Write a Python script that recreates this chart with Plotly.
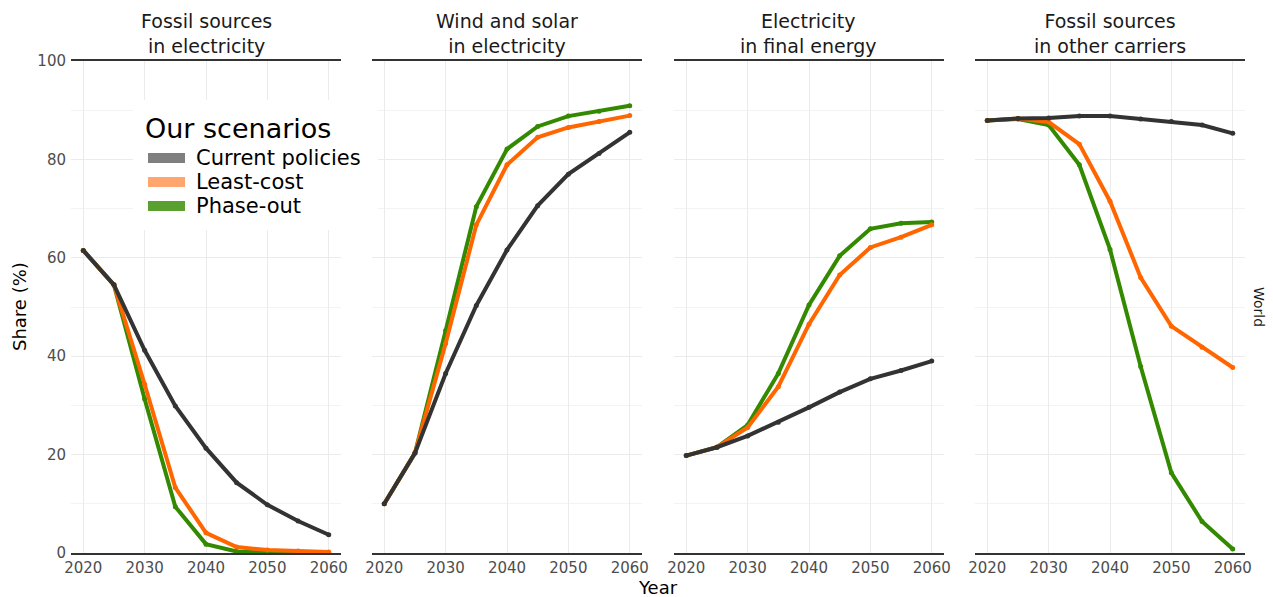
import plotly.graph_objects as go

years = [2020, 2025, 2030, 2035, 2040, 2045, 2050, 2055, 2060]
panels = ["Fossil sources<br>in electricity", "Wind and solar<br>in electricity",
          "Electricity<br>in final energy", "Fossil sources<br>in other carriers"]
scenarios = ["Current policies", "Least-cost", "Phase-out"]
legend_title = "Our scenarios"

# values per panel (percent)
fossil_elec_current = [61.5, 54.5, 41.2, 29.9, 21.3, 14.3, 9.8, 6.5, 3.7]
fossil_elec_leastcost = [61.5, 54.5, 34.3, 13.3, 4.1, 1.2, 0.6, 0.4, 0.2]
fossil_elec_phaseout = [61.5, 54.5, 31.3, 9.4, 1.8, 0.3, 0.1, 0.05, 0.0]

windsolar_current = [10.0, 20.3, 36.5, 50.3, 61.6, 70.6, 77.0, 81.2, 85.5]
windsolar_leastcost = [10.0, 20.3, 42.6, 66.7, 78.9, 84.5, 86.5, 87.7, 88.9]
windsolar_phaseout = [10.0, 20.3, 45.2, 70.4, 82.1, 86.7, 88.8, 89.8, 90.9]

elec_final_current = [19.8, 21.5, 23.8, 26.6, 29.6, 32.7, 35.4, 37.1, 39.0]
elec_final_leastcost = [19.8, 21.5, 25.5, 33.8, 46.5, 56.5, 62.1, 64.2, 66.7]
elec_final_phaseout = [19.8, 21.5, 26.0, 36.5, 50.4, 60.4, 65.9, 67.0, 67.3]

fossil_other_current = [87.9, 88.3, 88.4, 88.8, 88.8, 88.2, 87.7, 87.0, 85.3]
fossil_other_leastcost = [87.9, 88.3, 87.6, 83.1, 71.5, 56.0, 46.1, 41.8, 37.7]
fossil_other_phaseout = [87.9, 88.2, 87.0, 78.9, 61.7, 37.9, 16.3, 6.4, 0.8]

panel_data = [
    [fossil_elec_current, fossil_elec_leastcost, fossil_elec_phaseout],
    [windsolar_current, windsolar_leastcost, windsolar_phaseout],
    [elec_final_current, elec_final_leastcost, elec_final_phaseout],
    [fossil_other_current, fossil_other_leastcost, fossil_other_phaseout],
]

line_colors = ["#333333", "#FF6600", "#338A00"]
key_colors = ["#7F7F7F", "#FFA66F", "#5AA02F"]

y_ticks = [0, 20, 40, 60, 80, 100]
x_ticks = [2020, 2030, 2040, 2050, 2060]

FONT = "DejaVu Sans, Liberation Sans, Arial, sans-serif"

W, H = 1273, 597
ml, mr, mt, mb = 71, 28, 61, 44
pw = W - ml - mr
ph = H - mt - mb
panel_px = [(0, 270), (301, 571), (603, 873), (904, pw)]
domains = [[a / pw, b / pw] for a, b in panel_px]


def px_x(px):
    return (px - ml) / pw


def px_y(py):
    return (H - mb - py) / ph


fig = go.Figure()

order = [2, 1, 0]
for p in range(4):
    xa = "x" if p == 0 else f"x{p+1}"
    ya = "y" if p == 0 else f"y{p+1}"
    for s in order:
        fig.add_trace(go.Scatter(
            x=years, y=panel_data[p][s], mode="lines+markers",
            line=dict(color=line_colors[s], width=4),
            marker=dict(color=line_colors[s], size=5),
            xaxis=xa, yaxis=ya, showlegend=False, name=scenarios[s],
        ))

layout = dict(
    width=W, height=H,
    margin=dict(l=ml, r=mr, t=mt, b=mb),
    paper_bgcolor="white", plot_bgcolor="white",
    font=dict(family=FONT, color="#1A1A1A"),
    showlegend=False,
)

for p in range(4):
    xk = "xaxis" if p == 0 else f"xaxis{p+1}"
    yk = "yaxis" if p == 0 else f"yaxis{p+1}"
    layout[xk] = dict(
        domain=domains[p], range=[2018, 2062], anchor="y" if p == 0 else f"y{p+1}",
        tickvals=x_ticks, ticktext=[str(v) for v in x_ticks],
        tickfont=dict(size=15, color="#4D4D4D", family=FONT),
        showgrid=True, gridcolor="#EBEBEB", gridwidth=1.1,
        showline=True, linecolor="#333333", linewidth=1.5, mirror=True,
        zeroline=False, ticks="", ticklen=0,
    )
    layout[yk] = dict(
        domain=[0, 1], range=[0, 100], anchor="x" if p == 0 else f"x{p+1}",
        tickvals=y_ticks, ticktext=[str(v) for v in y_ticks],
        showticklabels=(p == 0), ticklabelstandoff=4,
        tickfont=dict(size=15, color="#4D4D4D", family=FONT),
        showgrid=True, gridcolor="#EBEBEB", gridwidth=1.1,
        minor=dict(dtick=10, tick0=0, showgrid=True, gridcolor="#F3F3F3", gridwidth=0.7),
        zeroline=False, showline=False, ticks="",
    )

fig.update_layout(**layout)

annotations = []
for p in range(4):
    cx = (domains[p][0] + domains[p][1]) / 2
    annotations.append(dict(
        text=panels[p], x=cx, y=1, xref="paper", yref="paper",
        xanchor="center", yanchor="bottom", yshift=2, showarrow=False,
        font=dict(size=19, color="#1A1A1A", family=FONT),
    ))
annotations.append(dict(
    text="Year", x=0.5, y=0, xref="paper", yref="paper", xanchor="center",
    yanchor="top", yshift=-22, showarrow=False,
    font=dict(size=18, color="black", family=FONT),
))
annotations.append(dict(
    text="Share (%)", x=0, y=0.5, xref="paper", yref="paper", xanchor="center",
    yanchor="middle", xshift=-52, textangle=-90, showarrow=False,
    font=dict(size=18, color="black", family=FONT),
))
annotations.append(dict(
    text="World", x=1, y=0.5, xref="paper", yref="paper", xanchor="center",
    yanchor="middle", xshift=14, textangle=90, showarrow=False,
    font=dict(size=14, color="#1A1A1A", family=FONT),
))

# manual legend (ggplot style, inside first panel)
shapes = [dict(
    type="rect", xref="paper", yref="paper",
    x0=px_x(133), x1=px_x(378), y0=px_y(230), y1=px_y(100),
    fillcolor="white", line=dict(width=0), layer="above",
)]
annotations.append(dict(
    text=legend_title, x=px_x(143), y=px_y(128), xref="paper", yref="paper",
    xanchor="left", yanchor="middle", showarrow=False,
    font=dict(size=27, color="black", family=FONT),
))
row_y = [158, 182, 206]
for s in range(3):
    shapes.append(dict(
        type="rect", xref="paper", yref="paper",
        x0=px_x(148), x1=px_x(185), y0=px_y(row_y[s] + 5), y1=px_y(row_y[s] - 5),
        fillcolor=key_colors[s], line=dict(width=0), layer="above",
    ))
    annotations.append(dict(
        text=scenarios[s], x=px_x(194), y=px_y(row_y[s]), xref="paper", yref="paper",
        xanchor="left", yanchor="middle", showarrow=False,
        font=dict(size=21, color="black", family=FONT),
    ))

fig.update_layout(annotations=annotations, shapes=shapes)

fig.write_html("out.html", config={"displayModeBar": False},
               post_script="document.body.style.margin='0';")
